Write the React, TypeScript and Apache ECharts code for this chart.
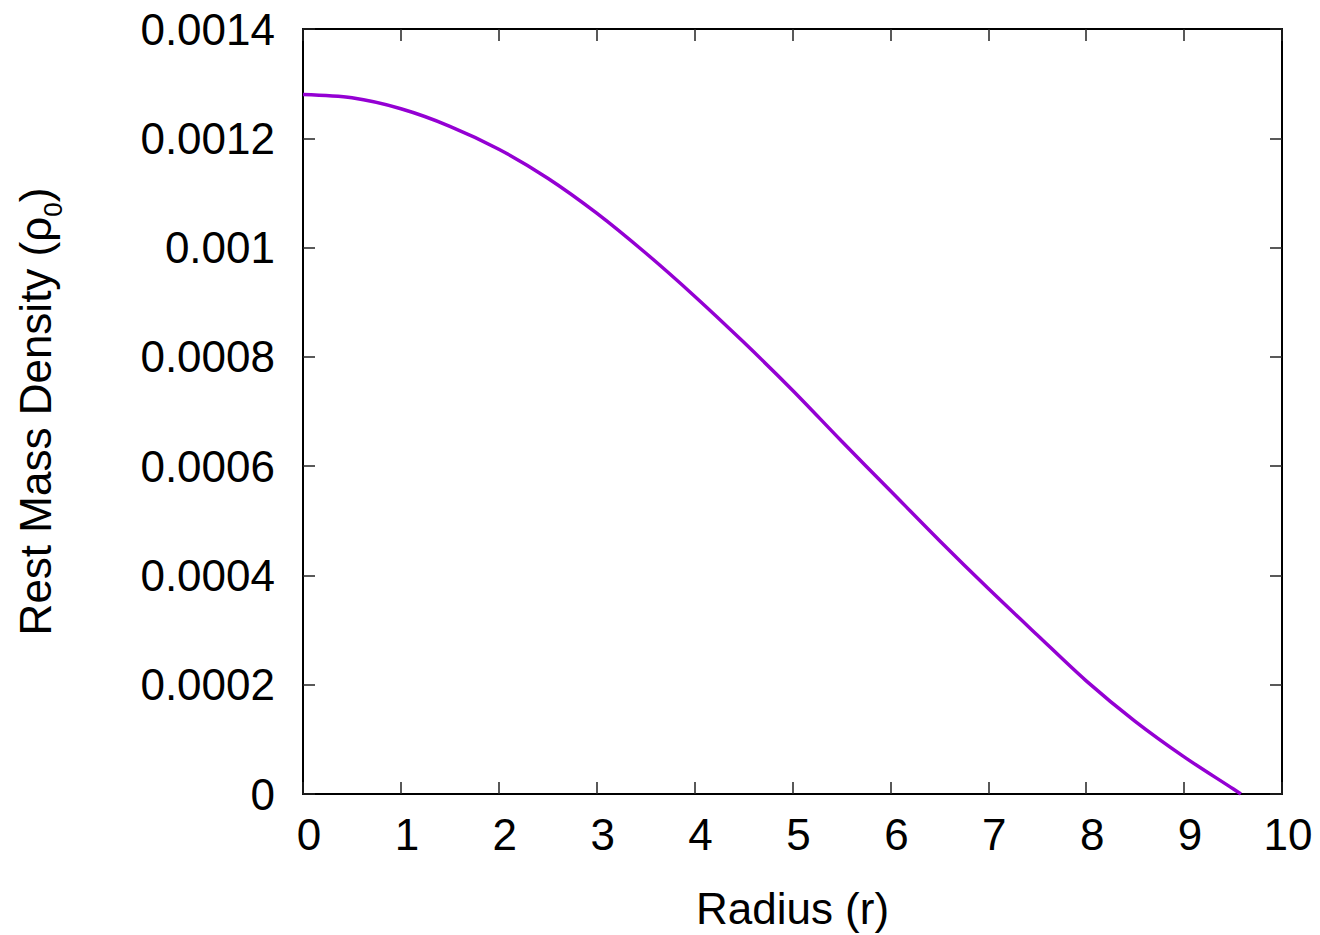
import React, { useEffect, useRef } from "react";
import * as echarts from "echarts";

const radius = [0, 0.5, 1, 1.5, 2, 2.5, 3, 3.5, 4, 4.5, 5, 5.5, 6, 6.5, 7, 7.5, 8, 8.5, 9, 9.5, 9.58];
const density = [
  0.00128, 0.001274, 0.001254, 0.001222, 0.00118, 0.001127, 0.001063, 0.00099, 0.000911, 0.000827,
  0.000739, 0.000646, 0.000555, 0.000464, 0.000376, 0.000291, 0.000207, 0.000133, 0.000068, 0.0000095, 0,
];
const xTitle = "Radius (r)";
const yTitleMain = "Rest Mass Density (ρ";
const yTitleSub = "0";

const FONT = '"Liberation Sans", Arial, Helvetica, sans-serif';

export default function App() {
  const ref = useRef<HTMLDivElement>(null);
  useEffect(() => {
    if (!ref.current) return;
    const chart = echarts.init(ref.current, null, { renderer: "svg" });
    const tickStyle = { color: "#222", width: 1.5 };
    const axisLineStyle = { color: "#000", width: 2 };
    chart.setOption({
      animation: false,
      backgroundColor: "#fff",
      textStyle: { fontFamily: FONT },
      grid: { left: 303, right: 38, top: 29, bottom: 141, containLabel: false },
      xAxis: [
        {
          type: "value",
          min: 0,
          max: 10,
          interval: 1,
          position: "bottom",
          name: xTitle,
          nameLocation: "middle",
          nameGap: 92,
          nameTextStyle: { fontSize: 44, color: "#000", fontFamily: FONT },
          axisLine: { show: true, onZero: false, lineStyle: axisLineStyle },
          axisTick: { show: true, inside: true, length: 12, lineStyle: tickStyle },
          axisLabel: { fontSize: 44, color: "#000", margin: 18, fontFamily: FONT, padding: [0, 0, 0, 12] },
          splitLine: { show: false },
        },
        {
          type: "value",
          min: 0,
          max: 10,
          interval: 1,
          position: "top",
          axisLine: { show: true, onZero: false, lineStyle: axisLineStyle },
          axisTick: { show: true, inside: true, length: 12, lineStyle: tickStyle },
          axisLabel: { show: false },
          splitLine: { show: false },
        },
      ],
      yAxis: [
        {
          type: "value",
          min: 0,
          max: 0.0014,
          interval: 0.0002,
          position: "left",
          name: "{m|" + yTitleMain + "}{s|" + yTitleSub + "}{m|)}",
          nameLocation: "middle",
          nameGap: 240,
          nameRotate: 90,
          nameTextStyle: {
            fontSize: 44,
            color: "#000",
            fontFamily: FONT,
            rich: {
              m: { fontSize: 44, lineHeight: 50, color: "#000", fontFamily: FONT, verticalAlign: "top" },
              s: {
                fontSize: 26,
                lineHeight: 26,
                color: "#000",
                fontFamily: FONT,
                verticalAlign: "top",
                padding: [27, 0, 0, 0],
              },
            },
          },
          axisLine: { show: true, onZero: false, lineStyle: axisLineStyle },
          axisTick: { show: true, inside: true, length: 12, lineStyle: tickStyle },
          axisLabel: {
            fontSize: 44,
            color: "#000",
            margin: 28,
            fontFamily: FONT,
            formatter: (v: number) => String(parseFloat(v.toFixed(6))),
          },
          splitLine: { show: false },
        },
        {
          type: "value",
          min: 0,
          max: 0.0014,
          interval: 0.0002,
          position: "right",
          axisLine: { show: true, onZero: false, lineStyle: axisLineStyle },
          axisTick: { show: true, inside: true, length: 12, lineStyle: tickStyle },
          axisLabel: { show: false },
          splitLine: { show: false },
        },
      ],
      series: [
        {
          type: "line",
          xAxisIndex: 0,
          yAxisIndex: 0,
          data: radius.map((r, i) => [r, density[i]]),
          smooth: 0.3,
          showSymbol: false,
          symbol: "none",
          lineStyle: { color: "#9400D3", width: 3.5 },
          itemStyle: { color: "#9400D3" },
        },
      ],
    });
    return () => chart.dispose();
  }, []);
  return (
    <div
      ref={ref}
      style={{ position: "fixed", left: 0, top: 0, width: 1320, height: 935, background: "#fff" }}
    />
  );
}
